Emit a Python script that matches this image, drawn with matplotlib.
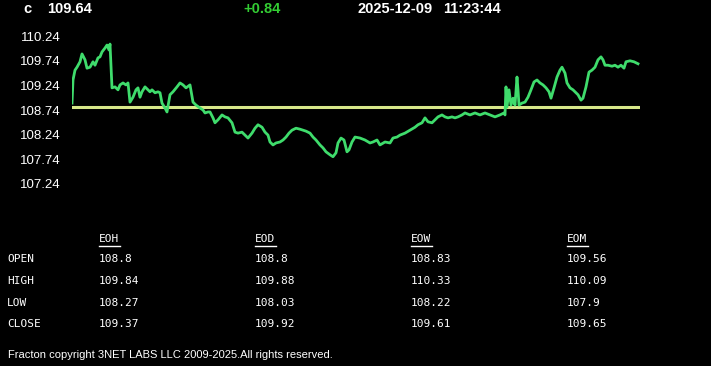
import matplotlib
matplotlib.use("Agg")
import matplotlib.pyplot as plt
from matplotlib.lines import Line2D

# ---- data ----
symbol = "c"
last_price = "109.64"
change = "+0.84"
date_str = "2025-12-09"
time_str = "11:23:44"
open_level = 108.80

t_minutes = [0, 1, 3, 5, 8, 10, 13, 15, 18, 21, 23, 26, 28, 30, 33, 35, 37, 38, 40, 43,
             46, 48, 51, 54, 56, 58, 61, 64, 66, 68, 70, 73, 76, 78, 80, 83, 86, 88, 90, 93,
             95, 98, 101, 105, 108, 111, 114, 118, 121, 124, 128, 131, 133, 136, 138, 141, 143, 146, 150, 153,
             156, 160, 163, 166, 170, 173, 176, 180, 183, 186, 190, 193, 196, 198, 201, 204, 208, 211, 214, 217,
             220, 224, 228, 231, 234, 238, 241, 244, 248, 251, 254, 258, 261, 264, 266, 269, 272, 275, 277, 280,
             283, 288, 293, 298, 301, 305, 308, 313, 318, 321, 325, 328, 333, 338, 343, 346, 350, 353, 356, 360,
             363, 366, 370, 373, 376, 380, 383, 386, 390, 393, 398, 403, 408, 413, 418, 423, 428, 432, 433, 434,
             435, 437, 439, 441, 443, 445, 446, 447, 450, 453, 456, 459, 462, 465, 468, 471, 474, 477, 479, 482,
             485, 488, 490, 493, 495, 498, 501, 504, 506, 509, 511, 514, 517, 520, 523, 526, 529, 531, 533, 536,
             540, 543, 546, 549, 552, 554, 558, 562, 566]
prices = [108.88, 109.35, 109.55, 109.61, 109.72, 109.88, 109.76, 109.59, 109.61, 109.72,
          109.65, 109.80, 109.82, 109.92, 110.00, 110.06, 109.96, 110.08, 109.19, 109.21,
          109.15, 109.25, 109.29, 109.25, 109.29, 108.90, 109.00, 109.15, 109.19, 109.00,
          109.11, 109.21, 109.15, 109.11, 109.15, 109.09, 109.11, 109.09, 108.88, 108.78,
          108.70, 109.05, 109.11, 109.21, 109.29, 109.25, 109.19, 109.25, 108.90, 108.84,
          108.78, 108.74, 108.68, 108.70, 108.70, 108.58, 108.48, 108.54, 108.64, 108.60,
          108.58, 108.48, 108.29, 108.27, 108.29, 108.23, 108.17, 108.27, 108.37, 108.44,
          108.39, 108.29, 108.23, 108.09, 108.03, 108.07, 108.09, 108.13, 108.19, 108.27,
          108.33, 108.37, 108.35, 108.33, 108.31, 108.27, 108.19, 108.13, 108.03, 107.97,
          107.89, 107.83, 107.79, 107.87, 108.07, 108.17, 108.13, 107.89, 107.93, 108.09,
          108.19, 108.17, 108.13, 108.07, 108.09, 108.13, 108.03, 108.09, 108.07, 108.17,
          108.19, 108.23, 108.27, 108.33, 108.39, 108.44, 108.48, 108.58, 108.50, 108.48,
          108.54, 108.60, 108.64, 108.60, 108.58, 108.60, 108.58, 108.60, 108.64, 108.68,
          108.64, 108.68, 108.64, 108.68, 108.64, 108.60, 108.64, 108.68, 108.64, 109.21,
          108.80, 109.15, 108.84, 108.98, 108.84, 109.41, 109.15, 108.84, 108.88, 108.90,
          109.00, 109.15, 109.31, 109.35, 109.29, 109.25, 109.19, 109.11, 108.98, 109.19,
          109.41, 109.55, 109.61, 109.49, 109.29, 109.19, 109.15, 109.09, 109.05, 108.94,
          108.98, 109.21, 109.51, 109.55, 109.61, 109.76, 109.82, 109.76, 109.65, 109.65,
          109.63, 109.65, 109.61, 109.65, 109.59, 109.72, 109.74, 109.72, 109.68]

y_ticks = [110.24, 109.74, 109.24, 108.74, 108.24, 107.74, 107.24]

periods = ["EOH", "EOD", "EOW", "EOM"]
row_names = ["OPEN", "HIGH", "LOW", "CLOSE"]
eoh = ["108.8", "109.84", "108.27", "109.37"]
eod = ["108.8", "109.88", "108.03", "109.92"]
eow = ["108.83", "110.33", "108.22", "109.61"]
eom = ["109.56", "110.09", "107.9", "109.65"]
footer = "Fracton copyright 3NET LABS LLC 2009-2025.All rights reserved."

# ---- figure ----
W, H = 711, 366
fig = plt.figure(figsize=(W / 100, H / 100), dpi=100, facecolor="black")

def fx(px):
    return px / W

def fy(py):
    return 1 - py / H

# axes: pixel box x 72..640, y 30..195
ax_top, ax_bot = 30, 195
ax = fig.add_axes([fx(72), fy(ax_bot), fx(640) - fx(72), (ax_bot - ax_top) / H])
ax.set_facecolor("black")
ppu = 49.2  # pixels per price unit
ax.set_ylim(108.74 - (ax_bot - 110) / ppu, 108.74 + (110 - ax_top) / ppu)
ax.set_xlim(0, 568)
ax.axhline(open_level, color="#d8e88a", lw=2.2, zorder=2)
ax.plot(t_minutes, prices, color="#3fdc6c", lw=2.0, zorder=3)
for s in ax.spines.values():
    s.set_visible(False)
ax.set_xticks([])
ax.set_yticks(y_ticks)
ax.set_yticklabels([f"{v:.2f}" for v in y_ticks], color="white",
                   fontsize=9.5, fontfamily="Liberation Sans")
ax.tick_params(axis="y", length=0, pad=8)

# header
hdr = dict(color="white", fontsize=10.5, fontweight="bold",
           fontfamily="Liberation Sans", va="center", ha="left")
fig.text(fx(23), fy(9), symbol, **hdr)
fig.text(fx(47), fy(9), last_price, **hdr)
fig.text(fx(243), fy(9), change, **{**hdr, "color": "#33cc33"})
fig.text(fx(357), fy(9), date_str, **hdr)
fig.text(fx(443), fy(9), time_str, **hdr)

# table
mono = dict(color="white", fontsize=8, fontfamily="DejaVu Sans Mono",
            va="center", ha="left")
col_x = [99, 255, 411, 567]
row_y = [259, 281, 303, 324]
cols = [eoh, eod, eow, eom]
for name, x in zip(periods, col_x):
    t = fig.text(fx(x), fy(239), name, **mono)
    fig.add_artist(Line2D([fx(x), fx(x + 21)], [fy(246), fy(246)],
                          color="white", lw=1, transform=fig.transFigure))
for name, y in zip(row_names, row_y):
    fig.text(fx(7), fy(y), name, **mono)
for vals, x in zip(cols, col_x):
    for v, y in zip(vals, row_y):
        fig.text(fx(x), fy(y), v, **mono)

fig.text(fx(8), fy(355), footer, color="white", fontsize=8,
         fontfamily="Liberation Sans", va="center", ha="left")

fig.savefig("out.png", dpi=100, facecolor="black")
